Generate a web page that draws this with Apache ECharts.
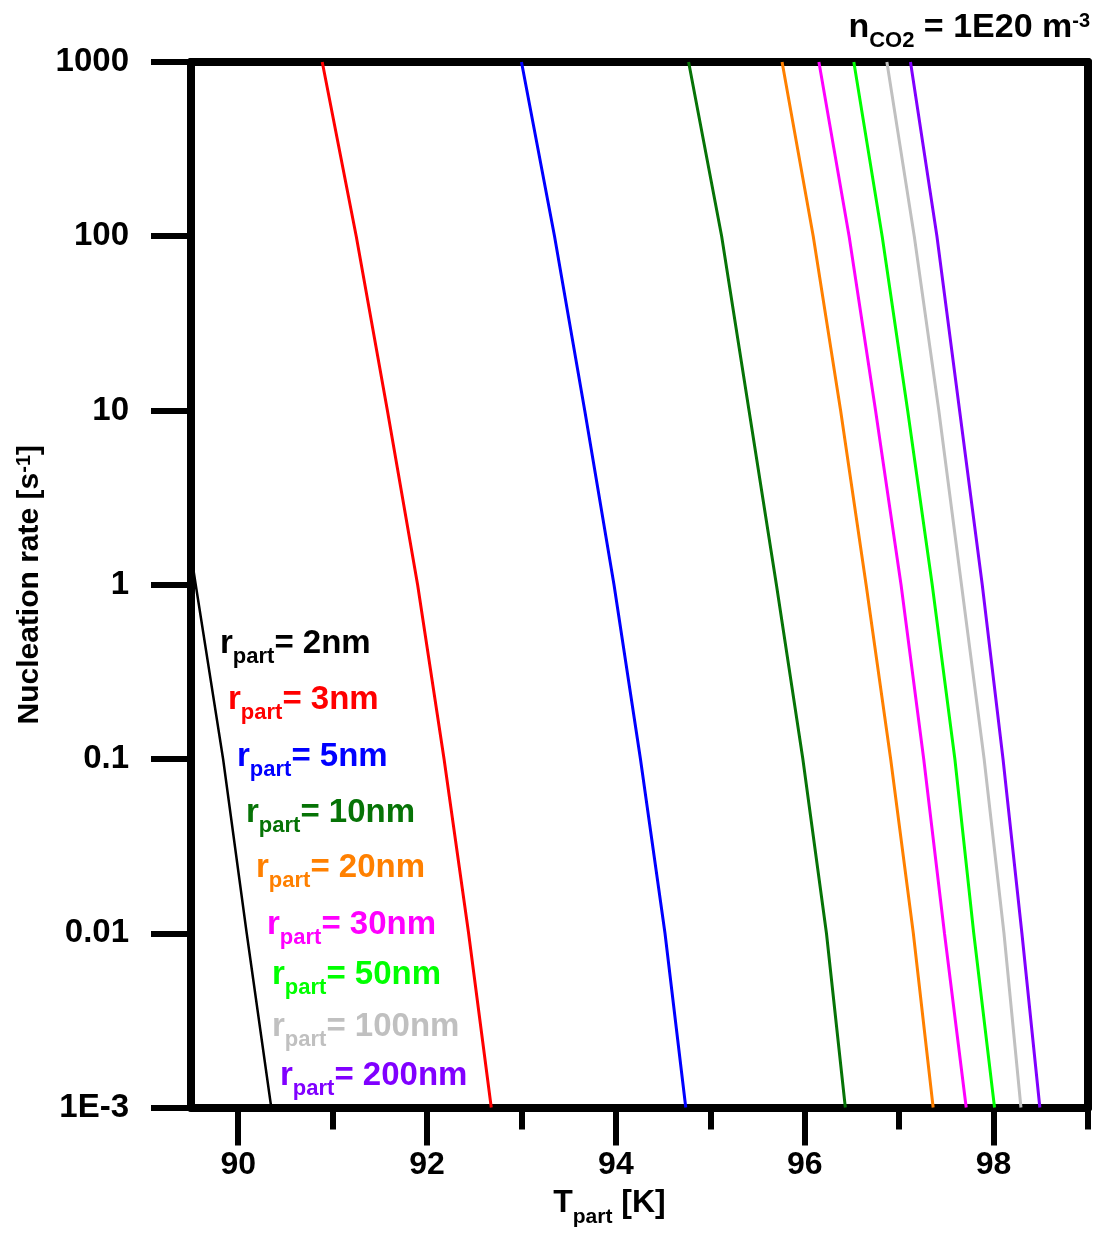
<!DOCTYPE html>
<html>
<head>
<meta charset="utf-8">
<script src="https://cdn.jsdelivr.net/npm/echarts@6/dist/echarts.min.js"></script>
<style>
  html, body { margin: 0; padding: 0; background: #fff; }
  #chart { width: 1094px; height: 1233px; }
</style>
</head>
<body>
<div id="chart"></div>
<script>
// radii of the particle (legend order)
const radii = ["2nm", "3nm", "5nm", "10nm", "20nm", "30nm", "50nm", "100nm", "200nm"];
const colors = ["#000000", "#ff0000", "#0000ff", "#067306", "#ff8000", "#ff00ff", "#00ff00", "#c0c0c0", "#8000ff"];

// nucleation rate levels (s^-1) where temperatures were read
const rates = [1000, 100, 10, 1, 0.1, 0.01, 0.001];

// T_part [K] for each radius at the rates above
const t3nm   = [90.89, 91.25, 91.58, 91.90, 92.18, 92.44, 92.68];
const t5nm   = [93.00, 93.35, 93.67, 93.98, 94.26, 94.52, 94.74];
const t10nm  = [94.77, 95.12, 95.41, 95.70, 95.98, 96.23, 96.43];
const t20nm  = [95.76, 96.09, 96.38, 96.65, 96.91, 97.15, 97.36];
const t30nm  = [96.15, 96.47, 96.75, 97.02, 97.26, 97.48, 97.71];
const t50nm  = [96.52, 96.82, 97.09, 97.35, 97.59, 97.79, 98.01];
const t100nm = [96.87, 97.16, 97.42, 97.66, 97.90, 98.11, 98.29];
const t200nm = [97.12, 97.40, 97.64, 97.88, 98.10, 98.30, 98.49];
// 2nm curve only enters the plot below ~1 s^-1
const t2nm    = [89.50, 89.55, 89.84, 90.09, 90.35];
const rate2nm = [1.5, 1, 0.1, 0.01, 0.001];

const xMajor = [90, 92, 94, 96, 98];
const xMinor = [91, 93, 95, 97, 99];
const yTickLabels = ["1E-3", "0.01", "0.1", "1", "10", "100", "1000"];

const temps = [t2nm, t3nm, t5nm, t10nm, t20nm, t30nm, t50nm, t100nm, t200nm];

const font = "Liberation Sans";

var myChart = echarts.init(document.getElementById("chart"));

const series = temps.map((t, i) => {
  const ys = i === 0 ? rate2nm : rates;
  return {
    name: radii[i],
    type: "line",
    xAxisIndex: 0,
    yAxisIndex: 0,
    showSymbol: false,
    clip: true,
    lineStyle: { color: colors[i], width: i === 0 ? 2.5 : 3 },
    data: t.map((x, k) => [x, ys[k]]),
  };
});

// staircase of labels inside the plot
const labelPos = [
  [220, 627], [228, 683], [237, 740], [246, 796], [256, 851],
  [267, 908], [272, 958], [272, 1010], [280, 1059],
];
const labels = radii.map((r, i) => ({
  type: "text",
  left: labelPos[i][0],
  top: labelPos[i][1],
  z: 10,
  style: {
    text: "{m|r}{s|part}{m|= " + r + "}",
    fill: colors[i],
    rich: {
      m: { fontSize: 33, fontWeight: "bold", fontFamily: font, fill: colors[i], lineHeight: 32, verticalAlign: "top" },
      s: { fontSize: 22, fontWeight: "bold", fontFamily: font, fill: colors[i], lineHeight: 60, verticalAlign: "middle" },
    },
  },
}));

const baseX = { type: "value", min: 89.5, max: 99, splitLine: { show: false } };

var option = {
  animation: false,
  backgroundColor: "#fff",
  grid: { left: 191, right: 6, top: 62, bottom: 123 },
  xAxis: [
    {
      ...baseX,
      position: "bottom",
      axisLine: { lineStyle: { color: "#000", width: 8 } },
      axisTick: { customValues: xMajor, length: 38, lineStyle: { color: "#000", width: 6 } },
      axisLabel: {
        customValues: xMajor,
        margin: 42,
        fontSize: 32,
        fontWeight: "bold",
        fontFamily: font,
        color: "#000",
      },
      name: "{m|T}{s|part}{m| [K]}",
      nameLocation: "middle",
      nameGap: 80,
      nameTextStyle: {
        padding: [0, 60, 0, 0],
        rich: {
          m: { fontSize: 32, fontWeight: "bold", fontFamily: font, color: "#000", lineHeight: 32, verticalAlign: "top" },
          s: { fontSize: 21, fontWeight: "bold", fontFamily: font, color: "#000", lineHeight: 60, verticalAlign: "middle" },
        },
      },
    },
    {
      ...baseX,
      position: "bottom",
      axisLine: { show: false },
      axisTick: { customValues: xMinor, length: 22, lineStyle: { color: "#000", width: 6 } },
      axisLabel: { show: false },
    },
    {
      ...baseX,
      position: "top",
      axisLine: { lineStyle: { color: "#000", width: 8 } },
      axisTick: { show: false },
      axisLabel: { show: false },
    },
  ],
  yAxis: [
    {
      type: "log",
      logBase: 10,
      min: 0.001,
      max: 1000,
      position: "left",
      splitLine: { show: false },
      axisLine: { lineStyle: { color: "#000", width: 8 } },
      axisTick: { length: 40, lineStyle: { color: "#000", width: 6 } },
      minorTick: { show: false },
      axisLabel: {
        margin: 62,
        fontSize: 33,
        fontWeight: "bold",
        fontFamily: font,
        color: "#000",
        formatter: (v) => yTickLabels[Math.round(Math.log10(v)) + 3],
      },
      name: "Nucleation rate [s{p|-1}]",
      nameLocation: "middle",
      nameRotate: 90,
      nameGap: 146,
      nameTextStyle: {
        fontSize: 30,
        fontWeight: "bold",
        fontFamily: font,
        color: "#000",
        rich: {
          p: { fontSize: 20, fontWeight: "bold", fontFamily: font, color: "#000", verticalAlign: "top", lineHeight: 20 },
        },
      },
    },
    {
      type: "value",
      position: "right",
      splitLine: { show: false },
      axisLine: { show: true, lineStyle: { color: "#000", width: 8 } },
      axisTick: { show: false },
      axisLabel: { show: false },
    },
  ],
  graphic: [
    {
      type: "text",
      right: 4,
      top: 11,
      style: {
        text: "{m|n}{s|CO2}{m| = 1E20 m}{p|-3}",
        rich: {
          m: { fontSize: 34, fontWeight: "bold", fontFamily: font, fill: "#000", lineHeight: 32, verticalAlign: "top" },
          s: { fontSize: 22, fontWeight: "bold", fontFamily: font, fill: "#000", lineHeight: 60, verticalAlign: "middle" },
          p: { fontSize: 20, fontWeight: "bold", fontFamily: font, fill: "#000", lineHeight: 20, verticalAlign: "top" },
        },
      },
    },
    ...labels,
  ],
  series: series,
};

option && myChart.setOption(option);
</script>
</body>
</html>
